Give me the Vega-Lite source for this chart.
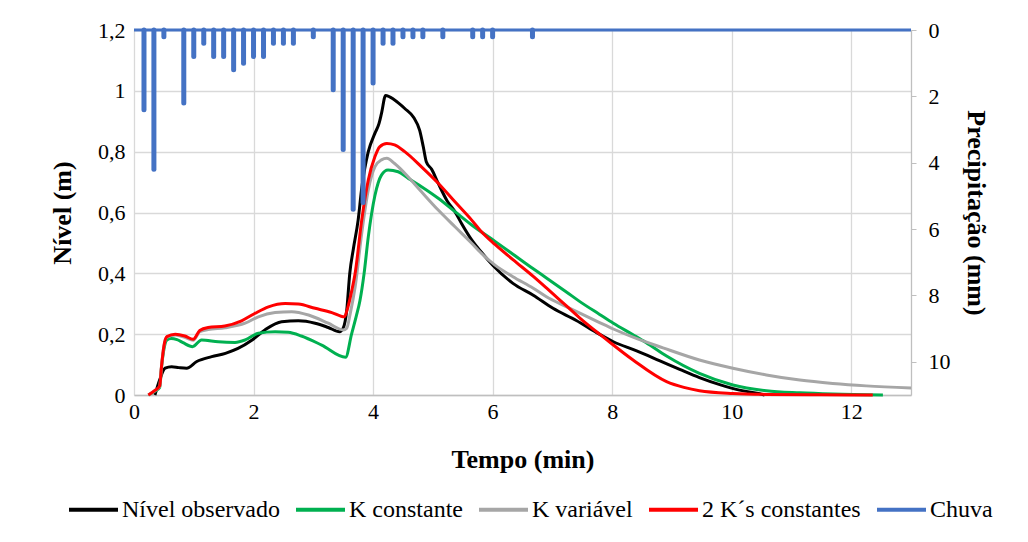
{
  "$schema": "https://vega.github.io/schema/vega-lite/v6.json",
  "width": 777,
  "height": 365,
  "autosize": {"type": "none"},
  "padding": {"left": 134, "top": 30, "right": 117, "bottom": 147},
  "background": "white",
  "config": {
    "font": "Liberation Serif",
    "view": {"stroke": null},
    "axis": {
      "labelFont": "Liberation Serif",
      "titleFont": "Liberation Serif",
      "labelColor": "#000000",
      "titleColor": "#000000",
      "labelFontSize": 22,
      "titleFontSize": 26,
      "titleFontWeight": "bold",
      "gridColor": "#d9d9d9",
      "gridWidth": 1.3,
      "domainColor": "#bfbfbf",
      "domainWidth": 1.3,
      "tickColor": "#bfbfbf",
      "labelFlush": false
    }
  },
  "datasets": {
    "levels": [
      {"s": "Nível observado", "t": 0.35, "v": 0},
      {"s": "Nível observado", "t": 0.43, "v": 0.05},
      {"s": "Nível observado", "t": 0.52, "v": 0.088},
      {"s": "Nível observado", "t": 0.63, "v": 0.093},
      {"s": "Nível observado", "t": 0.75, "v": 0.09},
      {"s": "Nível observado", "t": 0.88, "v": 0.088},
      {"s": "Nível observado", "t": 1.05, "v": 0.11},
      {"s": "Nível observado", "t": 1.3, "v": 0.126},
      {"s": "Nível observado", "t": 1.53, "v": 0.137},
      {"s": "Nível observado", "t": 1.74, "v": 0.153},
      {"s": "Nível observado", "t": 1.97, "v": 0.18},
      {"s": "Nível observado", "t": 2.19, "v": 0.214},
      {"s": "Nível observado", "t": 2.47, "v": 0.241},
      {"s": "Nível observado", "t": 2.75, "v": 0.244},
      {"s": "Nível observado", "t": 3.03, "v": 0.236},
      {"s": "Nível observado", "t": 3.25, "v": 0.222},
      {"s": "Nível observado", "t": 3.44, "v": 0.208},
      {"s": "Nível observado", "t": 3.5, "v": 0.22},
      {"s": "Nível observado", "t": 3.56, "v": 0.28},
      {"s": "Nível observado", "t": 3.61, "v": 0.4},
      {"s": "Nível observado", "t": 3.67, "v": 0.48},
      {"s": "Nível observado", "t": 3.75, "v": 0.575},
      {"s": "Nível observado", "t": 3.81, "v": 0.68},
      {"s": "Nível observado", "t": 3.92, "v": 0.8},
      {"s": "Nível observado", "t": 4.03, "v": 0.86},
      {"s": "Nível observado", "t": 4.1, "v": 0.893},
      {"s": "Nível observado", "t": 4.14, "v": 0.925},
      {"s": "Nível observado", "t": 4.21, "v": 0.985},
      {"s": "Nível observado", "t": 4.36, "v": 0.97},
      {"s": "Nível observado", "t": 4.53, "v": 0.942},
      {"s": "Nível observado", "t": 4.68, "v": 0.912},
      {"s": "Nível observado", "t": 4.78, "v": 0.87},
      {"s": "Nível observado", "t": 4.84, "v": 0.816},
      {"s": "Nível observado", "t": 4.89, "v": 0.767},
      {"s": "Nível observado", "t": 4.98, "v": 0.742},
      {"s": "Nível observado", "t": 5.09, "v": 0.696},
      {"s": "Nível observado", "t": 5.24, "v": 0.638},
      {"s": "Nível observado", "t": 5.37, "v": 0.603},
      {"s": "Nível observado", "t": 5.48, "v": 0.564},
      {"s": "Nível observado", "t": 5.65, "v": 0.51},
      {"s": "Nível observado", "t": 5.81, "v": 0.47},
      {"s": "Nível observado", "t": 6.01, "v": 0.425},
      {"s": "Nível observado", "t": 6.34, "v": 0.367},
      {"s": "Nível observado", "t": 6.68, "v": 0.328},
      {"s": "Nível observado", "t": 7.01, "v": 0.285},
      {"s": "Nível observado", "t": 7.4, "v": 0.245},
      {"s": "Nível observado", "t": 7.74, "v": 0.205},
      {"s": "Nível observado", "t": 8.02, "v": 0.175},
      {"s": "Nível observado", "t": 8.41, "v": 0.145},
      {"s": "Nível observado", "t": 8.8, "v": 0.112},
      {"s": "Nível observado", "t": 9.13, "v": 0.084},
      {"s": "Nível observado", "t": 9.46, "v": 0.057},
      {"s": "Nível observado", "t": 9.8, "v": 0.034},
      {"s": "Nível observado", "t": 10.13, "v": 0.016},
      {"s": "Nível observado", "t": 10.47, "v": 0.004},
      {"s": "Nível observado", "t": 10.55, "v": 0},

      {"s": "K constante", "t": 0.24, "v": 0},
      {"s": "K constante", "t": 0.35, "v": 0.012},
      {"s": "K constante", "t": 0.43, "v": 0.025},
      {"s": "K constante", "t": 0.46, "v": 0.09},
      {"s": "K constante", "t": 0.5, "v": 0.15},
      {"s": "K constante", "t": 0.55, "v": 0.181},
      {"s": "K constante", "t": 0.62, "v": 0.186},
      {"s": "K constante", "t": 0.72, "v": 0.182},
      {"s": "K constante", "t": 0.82, "v": 0.172},
      {"s": "K constante", "t": 0.98, "v": 0.159},
      {"s": "K constante", "t": 1.13, "v": 0.181},
      {"s": "K constante", "t": 1.41, "v": 0.175},
      {"s": "K constante", "t": 1.69, "v": 0.173},
      {"s": "K constante", "t": 1.86, "v": 0.181},
      {"s": "K constante", "t": 2.08, "v": 0.203},
      {"s": "K constante", "t": 2.36, "v": 0.208},
      {"s": "K constante", "t": 2.58, "v": 0.206},
      {"s": "K constante", "t": 2.8, "v": 0.194},
      {"s": "K constante", "t": 3.14, "v": 0.164},
      {"s": "K constante", "t": 3.54, "v": 0.124},
      {"s": "K constante", "t": 3.64, "v": 0.2},
      {"s": "K constante", "t": 3.72, "v": 0.26},
      {"s": "K constante", "t": 3.78, "v": 0.31},
      {"s": "K constante", "t": 3.85, "v": 0.4},
      {"s": "K constante", "t": 3.92, "v": 0.52},
      {"s": "K constante", "t": 4.03, "v": 0.655},
      {"s": "K constante", "t": 4.14, "v": 0.723},
      {"s": "K constante", "t": 4.25, "v": 0.74},
      {"s": "K constante", "t": 4.42, "v": 0.734},
      {"s": "K constante", "t": 4.59, "v": 0.712},
      {"s": "K constante", "t": 4.81, "v": 0.685},
      {"s": "K constante", "t": 5.09, "v": 0.647},
      {"s": "K constante", "t": 5.37, "v": 0.603},
      {"s": "K constante", "t": 5.65, "v": 0.559},
      {"s": "K constante", "t": 6.04, "v": 0.505},
      {"s": "K constante", "t": 6.34, "v": 0.463},
      {"s": "K constante", "t": 6.68, "v": 0.415},
      {"s": "K constante", "t": 6.9, "v": 0.385},
      {"s": "K constante", "t": 7.24, "v": 0.338},
      {"s": "K constante", "t": 7.46, "v": 0.307},
      {"s": "K constante", "t": 7.79, "v": 0.265},
      {"s": "K constante", "t": 8.02, "v": 0.236},
      {"s": "K constante", "t": 8.35, "v": 0.198},
      {"s": "K constante", "t": 8.57, "v": 0.172},
      {"s": "K constante", "t": 8.91, "v": 0.128},
      {"s": "K constante", "t": 9.46, "v": 0.071},
      {"s": "K constante", "t": 10.02, "v": 0.033},
      {"s": "K constante", "t": 10.58, "v": 0.014},
      {"s": "K constante", "t": 11.14, "v": 0.007},
      {"s": "K constante", "t": 11.69, "v": 0.003},
      {"s": "K constante", "t": 12.53, "v": 0},

      {"s": "K variável", "t": 0.24, "v": 0},
      {"s": "K variável", "t": 0.35, "v": 0.014},
      {"s": "K variável", "t": 0.43, "v": 0.028},
      {"s": "K variável", "t": 0.46, "v": 0.095},
      {"s": "K variável", "t": 0.5, "v": 0.16},
      {"s": "K variável", "t": 0.55, "v": 0.19},
      {"s": "K variável", "t": 0.69, "v": 0.197},
      {"s": "K variável", "t": 0.85, "v": 0.19},
      {"s": "K variável", "t": 0.99, "v": 0.18},
      {"s": "K variável", "t": 1.1, "v": 0.208},
      {"s": "K variável", "t": 1.24, "v": 0.215},
      {"s": "K variável", "t": 1.52, "v": 0.221},
      {"s": "K variável", "t": 1.86, "v": 0.236},
      {"s": "K variável", "t": 2.08, "v": 0.257},
      {"s": "K variável", "t": 2.36, "v": 0.271},
      {"s": "K variável", "t": 2.64, "v": 0.274},
      {"s": "K variável", "t": 2.92, "v": 0.263},
      {"s": "K variável", "t": 3.25, "v": 0.236},
      {"s": "K variável", "t": 3.5, "v": 0.214},
      {"s": "K variável", "t": 3.56, "v": 0.22},
      {"s": "K variável", "t": 3.62, "v": 0.27},
      {"s": "K variável", "t": 3.7, "v": 0.356},
      {"s": "K variável", "t": 3.81, "v": 0.532},
      {"s": "K variável", "t": 3.92, "v": 0.674},
      {"s": "K variável", "t": 4.03, "v": 0.75},
      {"s": "K variável", "t": 4.14, "v": 0.773},
      {"s": "K variável", "t": 4.23, "v": 0.778},
      {"s": "K variável", "t": 4.36, "v": 0.761},
      {"s": "K variável", "t": 4.53, "v": 0.729},
      {"s": "K variável", "t": 4.81, "v": 0.668},
      {"s": "K variável", "t": 5.09, "v": 0.608},
      {"s": "K variável", "t": 5.37, "v": 0.553},
      {"s": "K variável", "t": 5.65, "v": 0.499},
      {"s": "K variável", "t": 5.79, "v": 0.47},
      {"s": "K variável", "t": 6.04, "v": 0.427},
      {"s": "K variável", "t": 6.34, "v": 0.389},
      {"s": "K variável", "t": 6.68, "v": 0.351},
      {"s": "K variável", "t": 6.9, "v": 0.323},
      {"s": "K variável", "t": 7.24, "v": 0.29},
      {"s": "K variável", "t": 7.46, "v": 0.269},
      {"s": "K variável", "t": 7.79, "v": 0.238},
      {"s": "K variável", "t": 8.02, "v": 0.217},
      {"s": "K variável", "t": 8.35, "v": 0.19},
      {"s": "K variável", "t": 8.85, "v": 0.155},
      {"s": "K variável", "t": 9.46, "v": 0.115},
      {"s": "K variável", "t": 10.02, "v": 0.088},
      {"s": "K variável", "t": 10.58, "v": 0.066},
      {"s": "K variável", "t": 11.14, "v": 0.049},
      {"s": "K variável", "t": 11.69, "v": 0.038},
      {"s": "K variável", "t": 12.25, "v": 0.03},
      {"s": "K variável", "t": 13.0, "v": 0.023},

      {"s": "2 K´s constantes", "t": 0.24, "v": 0},
      {"s": "2 K´s constantes", "t": 0.35, "v": 0.015},
      {"s": "2 K´s constantes", "t": 0.43, "v": 0.03},
      {"s": "2 K´s constantes", "t": 0.46, "v": 0.093},
      {"s": "2 K´s constantes", "t": 0.5, "v": 0.16},
      {"s": "2 K´s constantes", "t": 0.55, "v": 0.192},
      {"s": "2 K´s constantes", "t": 0.69, "v": 0.2},
      {"s": "2 K´s constantes", "t": 0.85, "v": 0.194},
      {"s": "2 K´s constantes", "t": 0.99, "v": 0.183},
      {"s": "2 K´s constantes", "t": 1.1, "v": 0.212},
      {"s": "2 K´s constantes", "t": 1.24, "v": 0.222},
      {"s": "2 K´s constantes", "t": 1.52, "v": 0.227},
      {"s": "2 K´s constantes", "t": 1.8, "v": 0.244},
      {"s": "2 K´s constantes", "t": 2.02, "v": 0.268},
      {"s": "2 K´s constantes", "t": 2.25, "v": 0.29},
      {"s": "2 K´s constantes", "t": 2.53, "v": 0.301},
      {"s": "2 K´s constantes", "t": 2.75, "v": 0.299},
      {"s": "2 K´s constantes", "t": 3.03, "v": 0.285},
      {"s": "2 K´s constantes", "t": 3.31, "v": 0.271},
      {"s": "2 K´s constantes", "t": 3.52, "v": 0.257},
      {"s": "2 K´s constantes", "t": 3.58, "v": 0.29},
      {"s": "2 K´s constantes", "t": 3.64, "v": 0.34},
      {"s": "2 K´s constantes", "t": 3.7, "v": 0.4},
      {"s": "2 K´s constantes", "t": 3.81, "v": 0.575},
      {"s": "2 K´s constantes", "t": 3.92, "v": 0.707},
      {"s": "2 K´s constantes", "t": 4.03, "v": 0.783},
      {"s": "2 K´s constantes", "t": 4.11, "v": 0.816},
      {"s": "2 K´s constantes", "t": 4.23, "v": 0.827},
      {"s": "2 K´s constantes", "t": 4.36, "v": 0.822},
      {"s": "2 K´s constantes", "t": 4.53, "v": 0.8},
      {"s": "2 K´s constantes", "t": 4.81, "v": 0.75},
      {"s": "2 K´s constantes", "t": 5.09, "v": 0.696},
      {"s": "2 K´s constantes", "t": 5.37, "v": 0.635},
      {"s": "2 K´s constantes", "t": 5.65, "v": 0.575},
      {"s": "2 K´s constantes", "t": 5.79, "v": 0.542},
      {"s": "2 K´s constantes", "t": 6.04, "v": 0.495},
      {"s": "2 K´s constantes", "t": 6.34, "v": 0.445},
      {"s": "2 K´s constantes", "t": 6.68, "v": 0.39},
      {"s": "2 K´s constantes", "t": 6.9, "v": 0.352},
      {"s": "2 K´s constantes", "t": 7.07, "v": 0.322},
      {"s": "2 K´s constantes", "t": 7.24, "v": 0.292},
      {"s": "2 K´s constantes", "t": 7.46, "v": 0.253},
      {"s": "2 K´s constantes", "t": 7.79, "v": 0.2},
      {"s": "2 K´s constantes", "t": 7.9, "v": 0.183},
      {"s": "2 K´s constantes", "t": 8.35, "v": 0.115},
      {"s": "2 K´s constantes", "t": 8.91, "v": 0.044},
      {"s": "2 K´s constantes", "t": 9.2, "v": 0.025},
      {"s": "2 K´s constantes", "t": 9.46, "v": 0.014},
      {"s": "2 K´s constantes", "t": 10.02, "v": 0.005},
      {"s": "2 K´s constantes", "t": 10.58, "v": 0.002},
      {"s": "2 K´s constantes", "t": 11.5, "v": 0.001},
      {"s": "2 K´s constantes", "t": 12.36, "v": 0}
    ],
    "rain": [
      {"s": "Chuva", "t": 0.167, "p": 2.4},
      {"s": "Chuva", "t": 0.333, "p": 4.2},
      {"s": "Chuva", "t": 0.5, "p": 0.2},
      {"s": "Chuva", "t": 0.833, "p": 2.2},
      {"s": "Chuva", "t": 1.0, "p": 0.8},
      {"s": "Chuva", "t": 1.167, "p": 0.4},
      {"s": "Chuva", "t": 1.333, "p": 0.8},
      {"s": "Chuva", "t": 1.5, "p": 0.8},
      {"s": "Chuva", "t": 1.667, "p": 1.2},
      {"s": "Chuva", "t": 1.833, "p": 1.0},
      {"s": "Chuva", "t": 2.0, "p": 0.8},
      {"s": "Chuva", "t": 2.167, "p": 0.8},
      {"s": "Chuva", "t": 2.333, "p": 0.4},
      {"s": "Chuva", "t": 2.5, "p": 0.4},
      {"s": "Chuva", "t": 2.667, "p": 0.4},
      {"s": "Chuva", "t": 3.0, "p": 0.2},
      {"s": "Chuva", "t": 3.333, "p": 1.8},
      {"s": "Chuva", "t": 3.5, "p": 3.6},
      {"s": "Chuva", "t": 3.667, "p": 5.4},
      {"s": "Chuva", "t": 3.833, "p": 5.2},
      {"s": "Chuva", "t": 4.0, "p": 1.6},
      {"s": "Chuva", "t": 4.167, "p": 0.4},
      {"s": "Chuva", "t": 4.333, "p": 0.4},
      {"s": "Chuva", "t": 4.5, "p": 0.2},
      {"s": "Chuva", "t": 4.667, "p": 0.2},
      {"s": "Chuva", "t": 4.833, "p": 0.2},
      {"s": "Chuva", "t": 5.167, "p": 0.2},
      {"s": "Chuva", "t": 5.667, "p": 0.2},
      {"s": "Chuva", "t": 5.833, "p": 0.2},
      {"s": "Chuva", "t": 6.0, "p": 0.2},
      {"s": "Chuva", "t": 6.667, "p": 0.2}
    ]
  },
  "layer": [
    {
      "data": {"name": "levels"},
      "mark": {"type": "line", "strokeWidth": 3, "interpolate": "monotone"},
      "encoding": {
        "x": {
          "field": "t", "type": "quantitative",
          "scale": {"domain": [0, 13], "nice": false, "zero": false},
          "axis": {"values": [0, 2, 4, 6, 8, 10, 12], "format": "d", "title": "Tempo (min)", "grid": true, "ticks": false, "domain": true, "labelPadding": 6, "titlePadding": 24}
        },
        "y": {
          "field": "v", "type": "quantitative",
          "scale": {"domain": [0, 1.2], "nice": false},
          "axis": {"values": [0, 0.2, 0.4, 0.6, 0.8, 1, 1.2], "title": "Nível (m)", "labelExpr": "replace(format(datum.value, '.1~f'), '.', ',')", "grid": true, "domain": false, "ticks": false, "labelPadding": 9, "titlePadding": 22}
        },
        "color": {
          "field": "s", "type": "nominal",
          "scale": {
            "domain": ["Nível observado", "K constante", "K variável", "2 K´s constantes", "Chuva"],
            "range": ["#000000", "#00b050", "#a6a6a6", "#ff0000", "#4472c4"]
          },
          "legend": {
            "orient": "none", "legendX": -67, "legendY": 453, "direction": "horizontal",
            "title": null, "symbolType": "stroke", "symbolSize": 2401, "symbolStrokeWidth": 4,
            "labelFont": "Liberation Serif", "labelFontSize": 24, "labelColor": "#000000",
            "labelOffset": 2, "columnPadding": 8, "labelLimit": 400, "padding": 0
          }
        }
      }
    },
    {
      "layer": [
        {
          "data": {"name": "rain"},
          "mark": {"type": "rule", "strokeWidth": 5, "strokeCap": "round"},
          "encoding": {
            "x": {"field": "t", "type": "quantitative", "scale": {"domain": [0, 13], "nice": false, "zero": false}},
            "y": {
              "field": "p", "type": "quantitative",
              "scale": {"domain": [0, 11], "reverse": true, "nice": false},
              "axis": {"orient": "right", "values": [0, 2, 4, 6, 8, 10], "title": "Precipitação (mm)", "grid": false, "domain": true, "ticks": true, "tickSize": 5, "labelPadding": 12, "titlePadding": 12}
            },
            "y2": {"datum": 0},
            "color": {"field": "s", "type": "nominal"}
          }
        },
        {
          "data": {"values": [{"p": 0}]},
          "mark": {"type": "rule", "color": "#4472c4", "strokeWidth": 3},
          "encoding": {"y": {"field": "p", "type": "quantitative"}}
        }
      ]
    }
  ],
  "resolve": {"scale": {"y": "independent"}}
}
